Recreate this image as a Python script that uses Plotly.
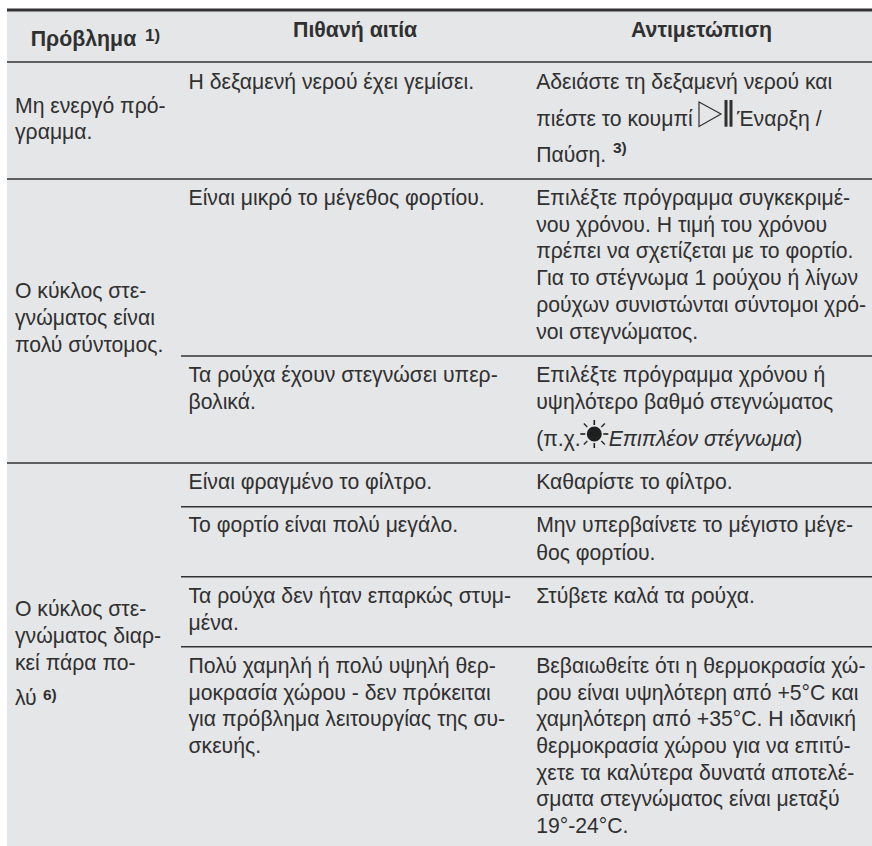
import plotly.graph_objects as go

W, H = 872, 846
INK = "#303030"
GREY = "#e5e6e8"
RULE = "#333335"
BODY = 21.2
HEAD = 21.3
SUP = 15.5
SUP_HEAD = 17

header_text = ["Πρόβλημα", "Πιθανή αιτία", "Αντιμετώπιση"]
header_x = [30.7, 293, 631]
header_base = [46.7, 38.3, 38.3]

col1_text = ["Μη ενεργό πρό-", "γραμμα.",
             "Ο κύκλος στε-", "γνώματος είναι", "πολύ σύντομος.",
             "Ο κύκλος στε-", "γνώματος διαρ-", "κεί πάρα πο-", "λύ"]
col1_base = [114.3, 140.5, 299.5, 326.5, 353, 617, 644.5, 671, 706]

col2_text = ["Η δεξαμενή νερού έχει γεμίσει.",
             "Είναι μικρό το μέγεθος φορτίου.",
             "Τα ρούχα έχουν στεγνώσει υπερ-", "βολικά.",
             "Είναι φραγμένο το φίλτρο.",
             "Το φορτίο είναι πολύ μεγάλο.",
             "Τα ρούχα δεν ήταν επαρκώς στυμ-", "μένα.",
             "Πολύ χαμηλή ή πολύ υψηλή θερ-", "μοκρασία χώρου - δεν πρόκειται",
             "για πρόβλημα λειτουργίας της συ-", "σκευής."]
col2_base = [90, 206, 383, 410, 490, 533, 604, 631, 674, 700.7, 727, 754]

col3_text = ["Αδειάστε τη δεξαμενή νερού και", "πιέστε το κουμπί", "Παύση.",
             "Επιλέξτε πρόγραμμα συγκεκριμέ-", "νου χρόνου. Η τιμή του χρόνου",
             "πρέπει να σχετίζεται με το φορτίο.", "Για το στέγνωμα 1 ρούχου ή λίγων",
             "ρούχων συνιστώνται σύντομοι χρό-", "νοι στεγνώματος.",
             "Επιλέξτε πρόγραμμα χρόνου ή", "υψηλότερο βαθμό στεγνώματος", "(π.χ.",
             "Καθαρίστε το φίλτρο.",
             "Μην υπερβαίνετε το μέγιστο μέγε-", "θος φορτίου.",
             "Στύβετε καλά τα ρούχα.",
             "Βεβαιωθείτε ότι η θερμοκρασία χώ-", "ρου είναι υψηλότερη από +5°C και",
             "χαμηλότερη από +35°C. Η ιδανική", "θερμοκρασία χώρου για να επιτύ-",
             "χετε τα καλύτερα δυνατά αποτελέ-", "σματα στεγνώματος είναι μεταξύ", "19°-24°C."]
col3_base = [90, 126.7, 163, 206, 232.7, 259.3, 286, 313, 340, 382.7, 410, 446.7, 490, 533, 560.7,
             604, 674, 700.7, 727, 754, 780.7, 807, 834]

inline_text = ["Έναρξη /", "<i>Επιπλέον στέγνωμα</i>)"]
inline_x = [737, 608.7]
inline_base = [126.7, 446.7]

sup_text = ["3)", "6)"]
sup_x = [613, 43]
sup_base = [154, 701]

sup_head_text = ["1)"]
sup_head_x = [145]
sup_head_base = [42]

full_rules = [62, 179, 463]
inner_rules = [356, 506.7, 576.7, 646.7]


def text_trace(texts, xs, bases, size, bold=False):
    family = "Liberation Sans"
    shown = [f"<b>{t}</b>" if bold else t for t in texts]
    # centre of the rendered line sits about 0.30 em above the baseline
    ys = [b - 0.30 * size for b in bases]
    return go.Scatter(x=xs, y=ys, text=shown, mode="text", textposition="middle right",
                      textfont=dict(family=family, size=size, color=INK),
                      hoverinfo="skip", showlegend=False, cliponaxis=False)


fig = go.Figure()
fig.add_trace(text_trace(header_text, header_x, header_base, HEAD, bold=True))
fig.add_trace(text_trace(col1_text, [15] * len(col1_text), col1_base, BODY))
fig.add_trace(text_trace(col2_text, [188.5] * len(col2_text), col2_base, BODY))
fig.add_trace(text_trace(col3_text, [536.2] * len(col3_text), col3_base, BODY))
fig.add_trace(text_trace(inline_text, inline_x, inline_base, BODY))
fig.add_trace(text_trace(sup_text, sup_x, sup_base, SUP, bold=True))
fig.add_trace(text_trace(sup_head_text, sup_head_x, sup_head_base, SUP_HEAD, bold=True))

shapes = [dict(type="rect", x0=7, x1=W, y0=10, y1=H, fillcolor=GREY, line_width=0, layer="below"),
          dict(type="line", x0=7, x1=W, y0=10, y1=10, line=dict(color=RULE, width=3))]
for y in full_rules:
    shapes.append(dict(type="line", x0=7, x1=W, y0=y, y1=y, line=dict(color=RULE, width=1.5)))
for y in inner_rules:
    shapes.append(dict(type="line", x0=181, x1=W, y0=y, y1=y, line=dict(color=RULE, width=1.5)))

# play / pause symbol
shapes.append(dict(type="path", path="M 699 102 L 721 114 L 699 126.5 Z",
                   line=dict(color=INK, width=1.2), fillcolor="rgba(0,0,0,0)"))
for x0, x1 in [(724.5, 727.5), (729.5, 732.5)]:
    shapes.append(dict(type="rect", x0=x0, x1=x1, y0=100, y1=126.7, fillcolor=INK, line_width=0))

# sun symbol
cx, cy = 594.3, 434
shapes.append(dict(type="circle", x0=cx - 7.5, x1=cx + 7.5, y0=cy - 7.5, y1=cy + 7.5,
                   fillcolor="#1f1f1f", line_width=0))
for dx, dy in [(1, 0), (-1, 0), (0, 1), (0, -1)]:
    shapes.append(dict(type="line", x0=cx + 9 * dx, x1=cx + 14 * dx, y0=cy + 9 * dy, y1=cy + 14 * dy,
                       line=dict(color="#1f1f1f", width=1.6)))
for dx, dy in [(0.7, 0.7), (-0.7, 0.7), (0.7, -0.7), (-0.7, -0.7)]:
    shapes.append(dict(type="line", x0=cx + 10 * dx, x1=cx + 15 * dx, y0=cy + 10 * dy, y1=cy + 15 * dy,
                       line=dict(color="#1f1f1f", width=1.2)))

fig.update_layout(width=W, height=H, margin=dict(l=0, r=0, t=0, b=0), autosize=False,
                  paper_bgcolor="white", plot_bgcolor="white", shapes=shapes, showlegend=False,
                  xaxis=dict(range=[0, W], visible=False, fixedrange=True),
                  yaxis=dict(range=[H, 0], visible=False, fixedrange=True))
fig.write_html("out.html", config={"displayModeBar": False},
               post_script="document.body.style.margin='0';document.documentElement.style.overflow='hidden';")
